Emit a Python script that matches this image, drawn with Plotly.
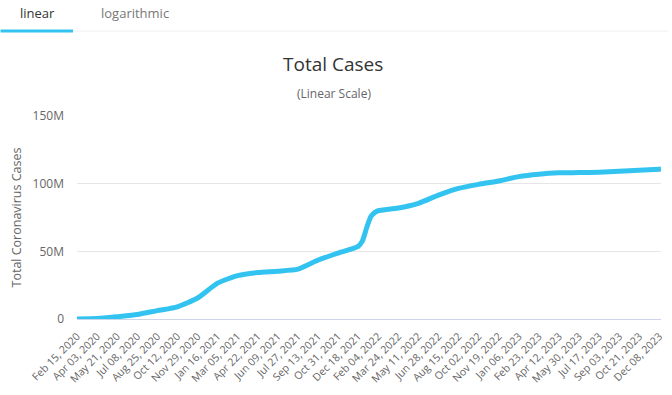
import plotly.graph_objects as go
from datetime import date

# ---- data ----
dates = [
    "2020-02-15", "2020-04-03", "2020-05-21", "2020-07-08", "2020-08-25",
    "2020-10-12", "2020-11-29", "2021-01-16", "2021-03-05", "2021-04-22",
    "2021-06-09", "2021-07-27", "2021-09-13", "2021-10-31", "2021-12-18",
    "2021-12-28", "2022-01-08", "2022-01-18", "2022-01-28", "2022-02-04",
    "2022-03-24", "2022-05-11", "2022-06-28", "2022-08-15", "2022-10-02",
    "2022-11-19", "2023-01-06", "2023-02-23", "2023-04-12", "2023-05-30",
    "2023-07-17", "2023-09-03", "2023-10-21", "2023-12-08", "2023-12-12",
]
total_cases_m = [
    0.0, 0.3, 1.7, 3.3, 6.2,
    9.0, 15.5, 26.5, 32.0, 34.3,
    35.3, 36.8, 43.5, 48.7, 53.7,
    57.5, 68.0, 76.0, 79.0, 80.0,
    82.0, 85.5, 91.5, 96.5, 99.5,
    102.0, 105.2, 107.0, 108.0, 108.2,
    108.5, 109.2, 110.0, 110.7, 110.8,
]
tick_dates = [
    "2020-02-15", "2020-04-03", "2020-05-21", "2020-07-08", "2020-08-25",
    "2020-10-12", "2020-11-29", "2021-01-16", "2021-03-05", "2021-04-22",
    "2021-06-09", "2021-07-27", "2021-09-13", "2021-10-31", "2021-12-18",
    "2022-02-04", "2022-03-24", "2022-05-11", "2022-06-28", "2022-08-15",
    "2022-10-02", "2022-11-19", "2023-01-06", "2023-02-23", "2023-04-12",
    "2023-05-30", "2023-07-17", "2023-09-03", "2023-10-21", "2023-12-08",
]
y_tick_vals = [0, 50e6, 100e6, 150e6]
y_tick_text = ["0", "50M", "100M", "150M"]

tick_text = [date.fromisoformat(d).strftime("%b %d, %Y") for d in tick_dates]
values = [v * 1e6 for v in total_cases_m]

W, H = 672, 395
L, R, T, B = 77, 7, 116, 76
pw, ph = W - L - R, H - T - B


def px(x):
    return (x - L) / pw


def py(y):
    return (H - B - y) / ph


FONT = "Open Sans, Lato, sans-serif"

fig = go.Figure()
fig.add_trace(go.Scatter(
    x=dates, y=values, mode="lines",
    line=dict(color="#33C3F0", width=5, shape="spline", smoothing=0.6),
    showlegend=False, hoverinfo="x+y",
))

fig.update_layout(
    width=W, height=H,
    margin=dict(l=L, r=R, t=T, b=B),
    paper_bgcolor="white", plot_bgcolor="white",
    font=dict(family=FONT, color="#666666", size=11),
    xaxis=dict(
        type="date", range=["2020-02-15", "2023-12-12"],
        tickmode="array", tickvals=tick_dates, ticktext=tick_text,
        tickangle=-45, tickfont=dict(size=10.6, color="#666666"),
        ticklabelstandoff=6,
        showgrid=False, zeroline=False,
        showline=True, linecolor="#ccd6eb", linewidth=1,
        ticks="", fixedrange=True,
    ),
    yaxis=dict(
        range=[0, 150e6], tickmode="array",
        tickvals=y_tick_vals, ticktext=y_tick_text,
        tickfont=dict(size=12, color="#666666"),
        ticklabelstandoff=12,
        showgrid=True, gridcolor="#e6e6e6", gridwidth=1,
        zeroline=False, showline=False, ticks="",
        title=dict(text="Total Coronavirus Cases", standoff=8,
                   font=dict(size=12.5, color="#666666")),
    ),
    annotations=[
        dict(text="Total Cases", x=px(335), y=py(64), xref="paper", yref="paper",
             showarrow=False, font=dict(size=19, color="#333333", family=FONT),
             xanchor="center", yanchor="middle"),
        dict(text="(Linear Scale)", x=px(336), y=py(93), xref="paper", yref="paper",
             showarrow=False, font=dict(size=12, color="#666666", family=FONT),
             xanchor="center", yanchor="middle"),
        dict(text="linear", x=px(37), y=py(13), xref="paper", yref="paper",
             showarrow=False, font=dict(size=13, color="#333333", family=FONT),
             xanchor="center", yanchor="middle"),
        dict(text="logarithmic", x=px(135), y=py(13), xref="paper", yref="paper",
             showarrow=False, font=dict(size=13, color="#777777", family=FONT),
             xanchor="center", yanchor="middle"),
    ],
    shapes=[
        dict(type="line", xref="paper", yref="paper",
             x0=px(0), x1=px(672), y0=py(31), y1=py(31),
             line=dict(color="#eeeeee", width=1)),
        dict(type="line", xref="paper", yref="paper",
             x0=px(0), x1=px(73), y0=py(31), y1=py(31),
             line=dict(color="#33C3F0", width=3)),
    ],
)

fig.write_html("out.html", config={"displayModeBar": False},
               post_script="document.body.style.margin='0';")
